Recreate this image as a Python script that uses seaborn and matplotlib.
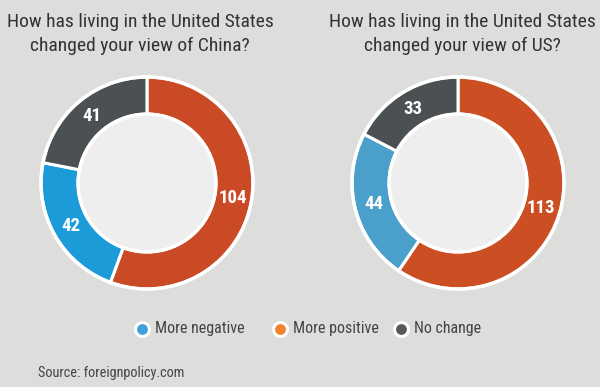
import matplotlib
matplotlib.use('Agg')
import matplotlib.pyplot as plt
import seaborn as sns
import numpy as np

# datos
categorias = ['More positive', 'More negative', 'No change']
valores_china = [104, 42, 41]
valores_us = [113, 44, 33]
titulos = ['How has living in the United States\nchanged your view of China?',
           'How has living in the United States\nchanged your view of US?']
leyenda = ['More negative', 'More positive', 'No change']

sns.set_theme(style="white")
plt.rcParams['font.family'] = ['DejaVu Sans Condensed', 'Roboto Condensed', 'Liberation Sans Narrow',
                               'Roboto', 'DejaVu Sans']

fondo = '#dddddc'
colores_china = ['#c94a25', '#1b9bd7', '#4b5052']
colores_us = ['#cc4f24', '#4aa0cb', '#4b5052']
colores_leyenda = {'More negative': '#3fa0dc', 'More positive': '#f0832f', 'No change': '#555759'}

fig = plt.figure(figsize=(6, 3.87), dpi=100)
fig.patch.set_facecolor(fondo)

W, H = 600, 387
R = 106
centros = [(147, 183), (458, 183)]
centros_titulo = [140, 462]


def dona(ax, valores, colores):
    ax.set_facecolor('none')
    ax.pie(valores, colors=colores, startangle=90, counterclock=False,
           radius=1.0, wedgeprops=dict(width=0.35, edgecolor='white', linewidth=2.2))
    ax.add_patch(plt.Circle((0, 0), 0.65, facecolor='#efeeee', edgecolor='white', linewidth=2.5))
    ax.add_patch(plt.Circle((0, 0), 1.0, facecolor='none', edgecolor='white', linewidth=2.5))
    total = sum(valores)
    acum = 0
    for v in valores:
        medio = acum + v / 2
        ang = np.deg2rad(90 - 360 * medio / total)
        ax.text(0.82 * np.cos(ang), 0.82 * np.sin(ang), str(v), ha='center', va='center',
                color='white', fontsize=13.5, fontweight='bold')
        acum += v
    ax.set_xlim(-1.02, 1.02)
    ax.set_ylim(-1.02, 1.02)
    ax.set_aspect('equal')
    ax.axis('off')


for (cx, cy), valores, colores, titulo, tx in zip(centros, [valores_china, valores_us],
                                                  [colores_china, colores_us], titulos, centros_titulo):
    rr = R * 1.02
    ax = fig.add_axes([(cx - rr) / W, (H - cy - rr) / H, 2 * rr / W, 2 * rr / H])
    dona(ax, valores, colores)
    fig.text(tx / W, 1 - 34 / H, titulo, ha='center', va='center', fontsize=14,
             color='#333333', linespacing=1.45)

# leyenda
xs = [142, 280, 401]
for x, nombre in zip(xs, leyenda):
    fig.lines.append(plt.Line2D([x / W], [1 - 329 / H], marker='o', markersize=10,
                                markerfacecolor=colores_leyenda[nombre], markeredgecolor='white',
                                markeredgewidth=2.2, transform=fig.transFigure))
    fig.text((x + 13) / W, 1 - 329 / H, nombre, ha='left', va='center', fontsize=11.5, color='#444444')

fig.text(38 / W, 1 - 373 / H, 'Source: foreignpolicy.com', ha='left', va='center',
         fontsize=10.3, color='#444444')

plt.savefig('out.png', dpi=100, facecolor=fondo)
plt.close()
